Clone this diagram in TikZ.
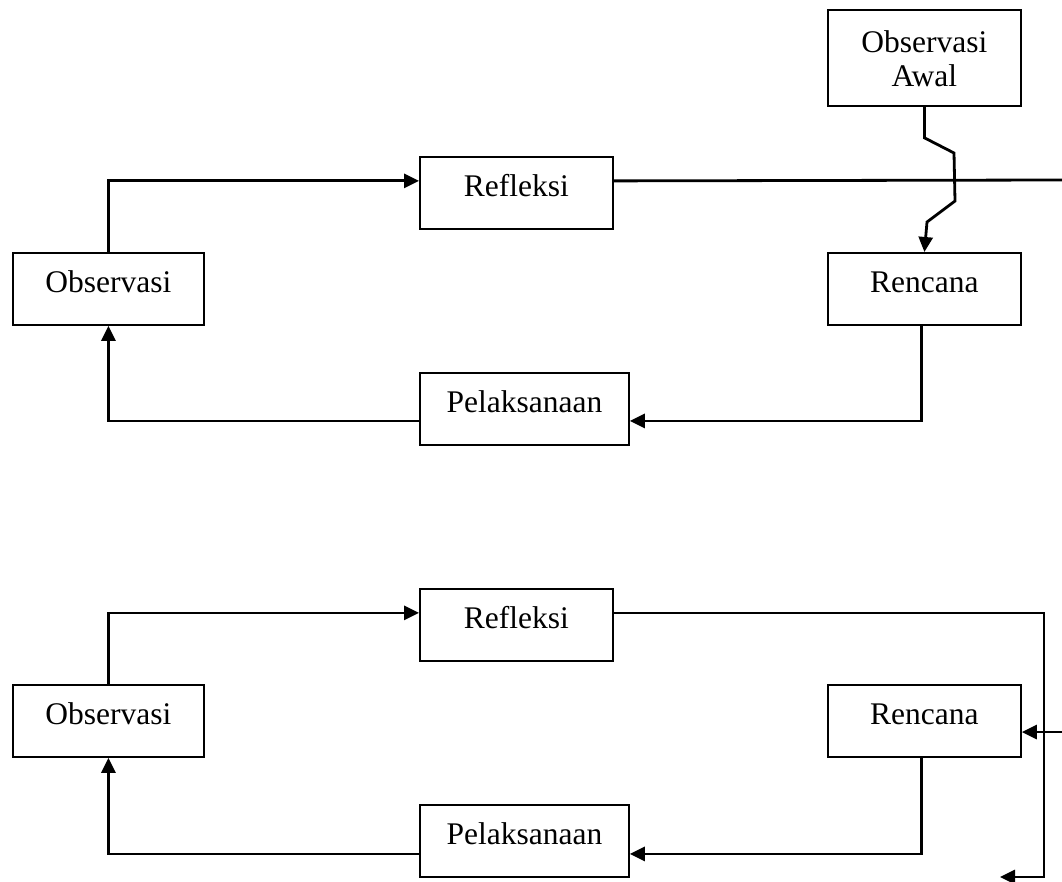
\documentclass[tikz,border=0pt]{standalone}
\usepackage{fontspec}
\setmainfont{Liberation Serif}
\usetikzlibrary{arrows.meta}
\begin{document}
\begin{tikzpicture}[x=1pt,y=-1pt,
  font=\fontsize{31.5}{34}\selectfont,
  box/.style={draw, line width=1.8pt, inner sep=0pt, anchor=north west,
    minimum width=193pt, minimum height=72pt, text height=40pt, text depth=32pt},
  conn/.style={line width=2.8pt, -{Triangle[length=15pt,width=14pt]}},
  plain/.style={line width=2.8pt}]
\useasboundingbox (0,0) rectangle (1062,882);
% top cycle
\node[box, minimum height=96pt, text height=77pt, text depth=19pt, align=center] (awal) at (827,9) {Observasi\\Awal};
\node[box] (refT) at (419,156) {Refleksi};
\node[box, minimum width=191pt] (obsT) at (12,252) {Observasi};
\node[box] (renT) at (827,252) {Rencana};
\node[box, minimum width=209pt] (pelT) at (419,372) {Pelaksanaan};
% bottom cycle
\node[box] (refB) at (419,588) {Refleksi};
\node[box, minimum width=191pt] (obsB) at (12,684) {Observasi};
\node[box] (renB) at (827,684) {Rencana};
\node[box, minimum width=209pt] (pelB) at (419,804) {Pelaksanaan};
% free ends
\coordinate (eT) at (1062,180);
\coordinate (cB) at (1044,877);
\coordinate (eB) at (1000,877);
\coordinate (inB) at (1062,732);
% top connectors
\draw[conn] (awal.south) -- ++(0,31) -- (954,153) -- (955,201) -- (927,222) -- (renT.north);
\draw[plain] ([yshift=12pt]refT.east) -- (eT);
\draw[conn] (obsT.north) |- ([yshift=12pt]refT.west);
\draw[conn] ([xshift=-3pt]renT.south) |- ([yshift=-12pt]pelT.east);
\draw[conn] ([yshift=-12pt]pelT.west) -| (obsT.south);
% bottom connectors
\draw[conn] (obsB.north) |- ([yshift=12pt]refB.west);
\draw[conn] ([yshift=12pt]refB.east) -| (cB) -- (eB);
\draw[conn] (inB) -- (renB.east |- inB);
\draw[conn] ([xshift=-3pt]renB.south) |- ([yshift=-13pt]pelB.east);
\draw[conn] ([yshift=-13pt]pelB.west) -| (obsB.south);
\end{tikzpicture}
\end{document}
